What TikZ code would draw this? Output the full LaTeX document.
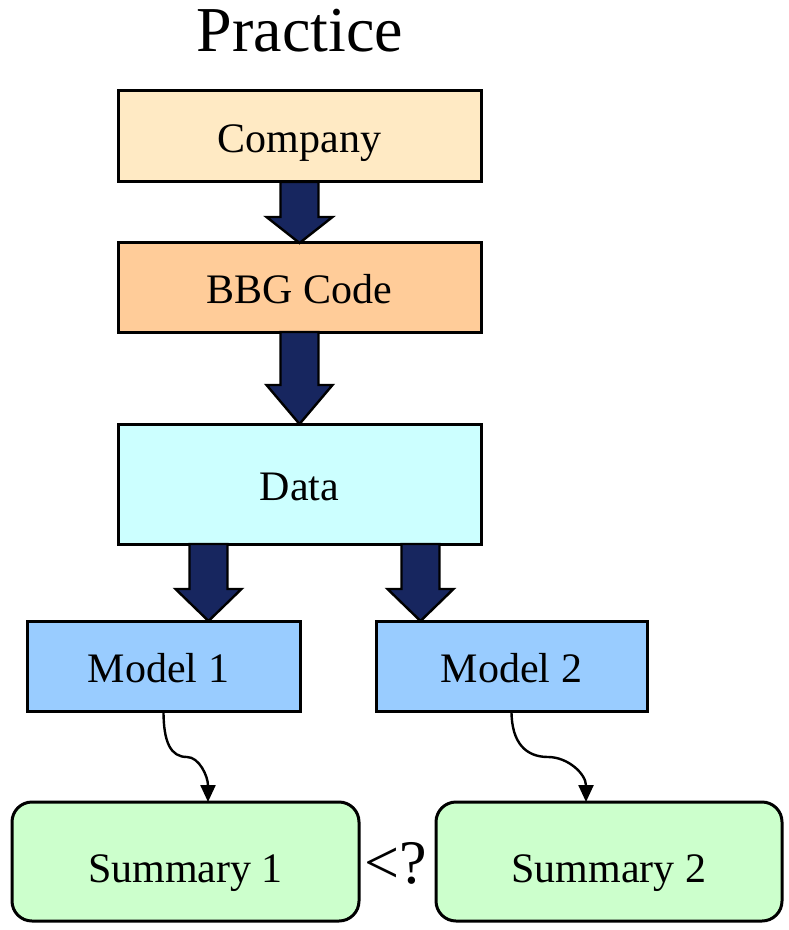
\documentclass[tikz,border=0pt]{standalone}
\usepackage{fontspec}
\setmainfont{Liberation Serif}
\usetikzlibrary{arrows.meta,calc}

\definecolor{companyfill}{HTML}{FFEAC4}
\definecolor{codefill}{HTML}{FFCC99}
\definecolor{datafill}{HTML}{CCFFFF}
\definecolor{modelfill}{HTML}{99CCFF}
\definecolor{summaryfill}{HTML}{CCFFCC}
\definecolor{navy}{HTML}{17265F}

% Thick block arrow from #1 down to the tip #2; #3 is the head length
\newcommand\blockarrow[3]{%
  \filldraw[bigarrow]
    ($(#1)+(-19,0)$) -- ($(#2)+(-19,-#3)$) -- ($(#2)+(-33,-#3)$) -- (#2)
    -- ($(#2)+(33,-#3)$) -- ($(#2)+(19,-#3)$) -- ($(#1)+(19,0)$) -- cycle;}

\begin{document}
\begin{tikzpicture}[x=0.5pt,y=-0.5pt,
  box/.style={draw=black,line width=1.5pt,inner sep=0pt,outer sep=0pt,
    font=\fontsize{21}{25}\selectfont,text height=16.5pt,text depth=0pt},
  bigarrow/.style={fill=navy,draw=black,line width=1.2pt,line join=miter},
  curvearrow/.style={draw=black,line width=1.2pt,
    -{Triangle[length=8.5pt,width=7.5pt]}}]
\useasboundingbox (0,0) rectangle (788,930);

% title
\node[font=\fontsize{32}{38}\selectfont,anchor=base,inner sep=0pt] (title) at (300,52) {Practice};

% boxes
\node[box,fill=companyfill,minimum width=181.5pt,minimum height=45.5pt] (company) at (299.5,136.5) {Company};
\node[box,fill=codefill,minimum width=181.5pt,minimum height=44.5pt] (code) at (299.5,287.5) {BBG Code};
\node[box,fill=datafill,minimum width=181.5pt,minimum height=60pt] (data) at (299.5,484) {Data};
\node[box,fill=modelfill,minimum width=136.5pt,minimum height=45pt] (m1) at (163.5,666) {\hspace*{-5pt}Model 1};
\node[box,fill=modelfill,minimum width=135.5pt,minimum height=45pt] (m2) at (511.5,666) {Model 2};
\node[box,fill=summaryfill,rounded corners=10pt,minimum width=173.5pt,minimum height=59.5pt] (s1) at (185.5,861.5) {\raisebox{-2pt}{Summary 1}};
\node[box,fill=summaryfill,rounded corners=10pt,minimum width=173pt,minimum height=59.5pt] (s2) at (609,861.5) {\raisebox{-2pt}{Summary 2}};

% comparison sign between the summaries
\node[font=\fontsize{31}{36}\selectfont,inner sep=0pt,anchor=base] (cmp) at (396,883) {<?};

% block arrows
\coordinate (ax1) at (208.5,0);
\coordinate (ax2) at (420.5,0);
\blockarrow{company.south}{code.north}{26}
\blockarrow{code.south}{data.north}{39}
\blockarrow{data.south -| ax1}{m1.north -| ax1}{32}
\blockarrow{data.south -| ax2}{m2.north -| ax2}{32}

% curved connectors from the models to their summaries
\coordinate (k1) at (187,757);
\coordinate (e1x) at (208,0);
\coordinate (k2) at (548,757);
\coordinate (e2x) at (586,0);
\draw[curvearrow] (m1.south) .. controls +(0,32) and +(-16,0) .. (k1)
  .. controls +(12,0) and +(0,-26) .. (s1.north -| e1x);
\draw[curvearrow] (m2.south) .. controls +(0,32) and +(-22,0) .. (k2)
  .. controls +(20,0) and +(0,-28) .. (s2.north -| e2x);
\end{tikzpicture}
\end{document}
